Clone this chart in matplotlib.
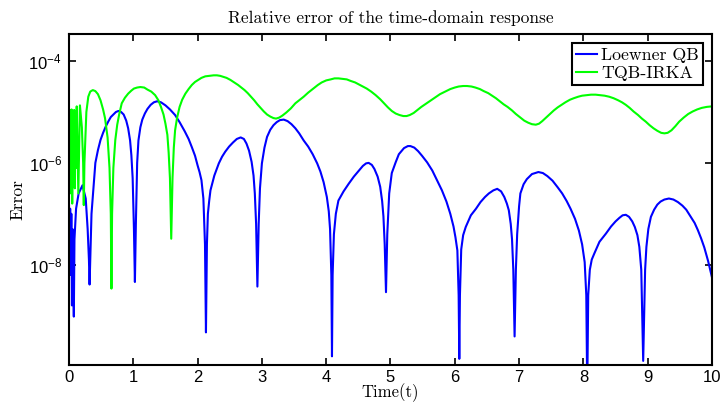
import matplotlib
matplotlib.use("Agg")
import matplotlib.pyplot as plt
import numpy as np

# values, as log10(error)
loewner_t = [0.000, 0.010, 0.018, 0.028, 0.036, 0.046, 0.055, 0.068, 0.075, 0.085,
             0.11, 0.15, 0.21, 0.26, 0.29, 0.31, 0.32, 0.33, 0.35, 0.41,
             0.45, 0.49, 0.53, 0.57, 0.61, 0.65, 0.69, 0.73, 0.77, 0.81,
             0.85, 0.89, 0.92, 0.95, 0.97, 0.99, 1.01, 1.025, 1.04, 1.06,
             1.08, 1.11, 1.14, 1.18, 1.22, 1.27, 1.32, 1.37, 1.43, 1.50,
             1.57, 1.65, 1.72, 1.80, 1.86, 1.91, 1.96, 2.00, 2.03, 2.06,
             2.09, 2.115, 2.13, 2.145, 2.16, 2.18, 2.20, 2.26, 2.33, 2.38,
             2.43, 2.49, 2.55, 2.61, 2.67, 2.72, 2.76, 2.80, 2.84, 2.87,
             2.89, 2.91, 2.93, 2.95, 2.97, 3.00, 3.04, 3.08, 3.13, 3.18,
             3.23, 3.28, 3.34, 3.40, 3.46, 3.52, 3.58, 3.65, 3.72, 3.79,
             3.86, 3.91, 3.96, 4.01, 4.04, 4.06, 4.08, 4.09, 4.10, 4.12,
             4.15, 4.19, 4.27, 4.35, 4.43, 4.51, 4.57, 4.62, 4.66, 4.71,
             4.75, 4.80, 4.84, 4.87, 4.89, 4.91, 4.93, 4.95, 4.98, 5.02,
             5.08, 5.13, 5.21, 5.27, 5.31, 5.37, 5.43, 5.49, 5.57, 5.65,
             5.72, 5.80, 5.87, 5.93, 5.98, 6.01, 6.04, 6.06, 6.07, 6.08,
             6.10, 6.13, 6.17, 6.25, 6.33, 6.40, 6.47, 6.53, 6.60, 6.66,
             6.72, 6.77, 6.81, 6.84, 6.87, 6.89, 6.91, 6.93, 6.95, 6.97,
             7.00, 7.02, 7.07, 7.12, 7.20, 7.30, 7.37, 7.44, 7.52, 7.60,
             7.67, 7.74, 7.80, 7.87, 7.93, 7.98, 8.02, 8.045, 8.06, 8.075,
             8.10, 8.13, 8.17, 8.25, 8.35, 8.43, 8.50, 8.56, 8.61, 8.66,
             8.71, 8.76, 8.80, 8.84, 8.87, 8.90, 8.93, 8.96, 8.98, 9.01,
             9.05, 9.10, 9.15, 9.20, 9.26, 9.33, 9.40, 9.47, 9.54, 9.60,
             9.67, 9.73, 9.78, 9.83, 9.88, 9.94, 10.0]
loewner_log = [-6.85, -7.7, -6.9, -8.2, -7.0, -8.8, -7.3, -8.4, -9.02, -7.5,
               -6.9, -6.6, -6.44, -6.7, -7.3, -7.9, -8.39, -7.9, -7.0, -6.0,
               -5.75, -5.55, -5.41, -5.29, -5.19, -5.10, -5.05, -5.00, -4.98, -5.00,
               -5.05, -5.17, -5.32, -5.56, -5.85, -6.3, -7.3, -8.34, -7.2, -6.0,
               -5.56, -5.30, -5.15, -5.03, -4.94, -4.86, -4.81, -4.79, -4.81, -4.87,
               -4.95, -5.06, -5.20, -5.38, -5.53, -5.69, -5.86, -6.05, -6.18, -6.34,
               -6.7, -7.6, -9.33, -7.6, -7.0, -6.75, -6.54, -6.25, -6.01, -5.88,
               -5.78, -5.68, -5.60, -5.53, -5.50, -5.53, -5.62, -5.76, -5.98, -6.25,
               -6.6, -7.2, -8.43, -7.2, -6.5, -6.01, -5.70, -5.49, -5.35, -5.26,
               -5.20, -5.16, -5.15, -5.18, -5.24, -5.32, -5.42, -5.56, -5.68, -5.83,
               -6.01, -6.17, -6.38, -6.67, -6.95, -7.3, -8.2, -9.8, -8.2, -7.4,
               -7.0, -6.74, -6.56, -6.41, -6.27, -6.15, -6.06, -6.01, -6.00, -6.04,
               -6.12, -6.27, -6.47, -6.75, -7.05, -7.6, -8.54, -7.4, -6.6, -6.2,
               -5.99, -5.83, -5.71, -5.67, -5.67, -5.70, -5.77, -5.86, -5.99, -6.15,
               -6.33, -6.54, -6.76, -7.00, -7.25, -7.46, -7.72, -8.6, -9.85, -8.6,
               -7.7, -7.42, -7.26, -7.03, -6.90, -6.77, -6.67, -6.60, -6.54, -6.51,
               -6.56, -6.67, -6.80, -6.93, -7.2, -7.5, -8.1, -9.41, -8.1, -7.4,
               -6.85, -6.60, -6.42, -6.32, -6.22, -6.18, -6.20, -6.26, -6.35, -6.48,
               -6.60, -6.75, -6.90, -7.10, -7.33, -7.6, -7.95, -8.6, -10.5, -8.6,
               -8.1, -7.9, -7.78, -7.55, -7.39, -7.25, -7.15, -7.08, -7.03, -7.02,
               -7.06, -7.15, -7.26, -7.42, -7.65, -8.1, -9.89, -8.1, -7.65, -7.3,
               -7.06, -6.92, -6.82, -6.76, -6.72, -6.70, -6.72, -6.77, -6.84, -6.92,
               -7.06, -7.18, -7.32, -7.48, -7.66, -7.93, -8.25]

irka_t = [0.000, 0.008, 0.016, 0.024, 0.032, 0.040, 0.050, 0.060, 0.070, 0.080,
          0.090, 0.100, 0.110, 0.12, 0.145, 0.17, 0.20, 0.22, 0.23, 0.24,
          0.27, 0.30, 0.33, 0.37, 0.41, 0.45, 0.49, 0.53, 0.56, 0.60,
          0.63, 0.65, 0.66, 0.67, 0.69, 0.72, 0.75, 0.78, 0.82, 0.87,
          0.92, 0.97, 1.01, 1.06, 1.11, 1.17, 1.22, 1.28, 1.34, 1.39,
          1.43, 1.47, 1.50, 1.53, 1.55, 1.57, 1.59, 1.61, 1.63, 1.65,
          1.68, 1.72, 1.76, 1.81, 1.86, 1.91, 1.96, 2.01, 2.06, 2.12,
          2.18, 2.25, 2.30, 2.35, 2.40, 2.45, 2.51, 2.57, 2.63, 2.68,
          2.73, 2.78, 2.83, 2.88, 2.93, 2.98, 3.03, 3.08, 3.13, 3.18,
          3.22, 3.27, 3.32, 3.38, 3.45, 3.52, 3.58, 3.65, 3.72, 3.80,
          3.87, 3.93, 4.00, 4.07, 4.13, 4.19, 4.25, 4.32, 4.38, 4.45,
          4.51, 4.57, 4.63, 4.70, 4.77, 4.84, 4.90, 4.96, 5.02, 5.08,
          5.14, 5.20, 5.25, 5.30, 5.36, 5.42, 5.48, 5.55, 5.62, 5.70,
          5.77, 5.85, 5.93, 6.00, 6.06, 6.13, 6.19, 6.26, 6.32, 6.39,
          6.45, 6.52, 6.58, 6.64, 6.70, 6.76, 6.82, 6.89, 6.95, 7.02,
          7.08, 7.14, 7.20, 7.26, 7.31, 7.36, 7.42, 7.48, 7.54, 7.60,
          7.66, 7.72, 7.79, 7.85, 7.92, 7.98, 8.05, 8.12, 8.19, 8.26,
          8.33, 8.40, 8.47, 8.54, 8.60, 8.66, 8.72, 8.78, 8.85, 8.91,
          8.97, 9.03, 9.09, 9.15, 9.21, 9.26, 9.31, 9.37, 9.43, 9.49,
          9.56, 9.63, 9.70, 9.77, 9.84, 9.92, 10.0]
irka_log = [-5.9, -5.0, -6.6, -4.97, -6.3, -4.95, -6.8, -4.98, -6.2, -4.96,
            -6.5, -5.0, -6.1, -4.89, -6.6, -4.87, -5.3, -6.0, -6.83, -6.0,
            -5.0, -4.70, -4.60, -4.57, -4.59, -4.65, -4.77, -4.95, -5.12, -5.50,
            -6.1, -7.0, -8.47, -7.0, -6.1, -5.55, -5.25, -5.05, -4.83, -4.72,
            -4.64, -4.58, -4.54, -4.52, -4.51, -4.52, -4.56, -4.60, -4.67, -4.77,
            -4.90, -5.05, -5.23, -5.45, -5.80, -6.3, -7.49, -6.3, -5.70, -5.36,
            -5.12, -4.90, -4.76, -4.64, -4.55, -4.47, -4.41, -4.37, -4.33, -4.30,
            -4.29, -4.28, -4.28, -4.29, -4.31, -4.33, -4.37, -4.42, -4.47, -4.52,
            -4.57, -4.63, -4.70, -4.77, -4.85, -4.92, -4.99, -5.05, -5.09, -5.12,
            -5.13, -5.11, -5.07, -5.01, -4.93, -4.83, -4.77, -4.70, -4.62, -4.54,
            -4.47, -4.42, -4.38, -4.36, -4.34, -4.34, -4.35, -4.36, -4.39, -4.42,
            -4.46, -4.50, -4.54, -4.60, -4.67, -4.75, -4.83, -4.91, -4.98, -5.03,
            -5.06, -5.08, -5.08, -5.06, -5.02, -4.96, -4.90, -4.84, -4.78, -4.71,
            -4.65, -4.60, -4.55, -4.52, -4.50, -4.49, -4.49, -4.50, -4.52, -4.55,
            -4.59, -4.63, -4.68, -4.73, -4.79, -4.85, -4.90, -4.97, -5.04, -5.11,
            -5.17, -5.21, -5.24, -5.25, -5.23, -5.18, -5.11, -5.04, -4.97, -4.91,
            -4.86, -4.81, -4.76, -4.73, -4.70, -4.68, -4.67, -4.66, -4.66, -4.67,
            -4.68, -4.70, -4.73, -4.77, -4.81, -4.86, -4.92, -4.99, -5.06, -5.13,
            -5.19, -5.26, -5.32, -5.37, -5.41, -5.42, -5.41, -5.36, -5.28, -5.19,
            -5.11, -5.04, -4.99, -4.95, -4.92, -4.90, -4.89]

x_ticks = list(range(0, 11))
y_ticks = [1e-8, 1e-6, 1e-4]
y_tick_labels = [r'$\mathregular{10^{-8}}$', r'$\mathregular{10^{-6}}$', r'$\mathregular{10^{-4}}$']

plt.rcParams['font.family'] = ['Liberation Sans', 'DejaVu Sans']
plt.rcParams['mathtext.fontset'] = 'custom'
plt.rcParams['mathtext.rm'] = 'Liberation Sans'

fig = plt.figure(figsize=(7.21, 4.03), dpi=100)
ax = fig.add_axes([0.0957, 0.0943, 0.8918, 0.8213])

ax.semilogy(loewner_t, 10.0 ** np.array(loewner_log), color=(0, 0, 1), lw=1.5, label='Loewner QB')
ax.semilogy(irka_t, 10.0 ** np.array(irka_log), color=(0, 1, 0), lw=1.5, label='TQB-IRKA')

ax.set_xlim(0, 10)
ax.set_ylim(1.07e-10, 3.4e-4)
ax.set_xticks(x_ticks)
ax.set_yticks(y_ticks)
ax.set_yticklabels(y_tick_labels)
ax.minorticks_off()
ax.tick_params(direction='in', length=5, width=1.2, top=True, right=True, labelsize=12, pad=5)
ax.tick_params(axis='x', pad=3.5)
for s in ax.spines.values():
    s.set_linewidth(1.5)

ax.set_title('Relative error of the time-domain response', fontfamily='cmr10', fontsize=12.5, pad=8)
ax.set_xlabel('Time(t)', fontfamily='cmr10', fontsize=12, labelpad=-1)
ax.set_ylabel('Error', fontfamily='cmr10', fontsize=12.5, labelpad=2)

leg = ax.legend(loc='upper right', prop={'family': 'cmr10', 'size': 12.8}, fancybox=False,
                edgecolor='black', framealpha=1, handlelength=1.2, handletextpad=0.2,
                borderpad=0.25, labelspacing=0.15, borderaxespad=0.5)
leg.get_frame().set_linewidth(1.5)

fig.savefig('out.png', dpi=100)
